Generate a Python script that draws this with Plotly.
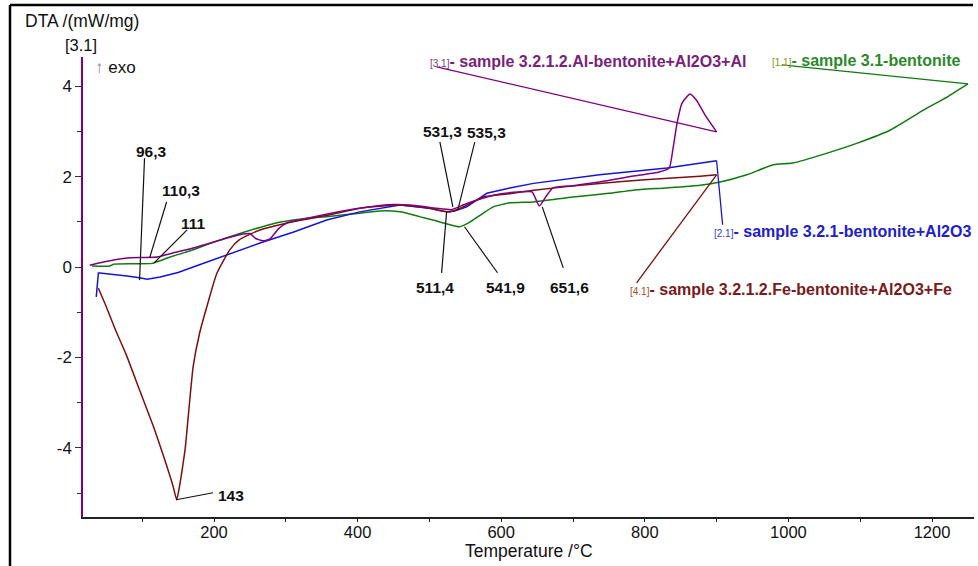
import plotly.graph_objects as go

# ---------------- data ----------------
green_T = [30, 55, 60, 90, 114, 125, 139, 155, 171, 200, 236, 265, 295, 330, 360, 403, 430, 459, 485, 505, 525,
           542, 555, 571, 589, 612, 645, 700, 750, 784, 830, 877, 905, 942, 979, 1006, 1054, 1096, 1142, 1188, 1221, 1250]
green_Y = [0.02, 0.02, 0.06, 0.07, 0.08, 0.14, 0.22, 0.30, 0.38, 0.55, 0.74, 0.88, 1.00, 1.08, 1.12, 1.19, 1.24, 1.22,
           1.12, 1.04, 0.95, 0.89, 0.98, 1.15, 1.33, 1.42, 1.44, 1.55, 1.63, 1.70, 1.75, 1.81, 1.88, 2.04, 2.26, 2.30,
           2.52, 2.74, 3.03, 3.47, 3.76, 4.05]

purple_T = [27, 46, 79, 100, 121, 140, 171, 218, 240, 250, 258, 268, 278, 290, 302, 330, 360, 403, 450, 480, 510, 531,
            545, 560, 580, 600, 625, 643, 653, 662, 672, 700, 737, 780, 820, 834, 839, 845, 852, 863, 872, 884, 900]
purple_Y = [0.04, 0.11, 0.20, 0.21, 0.22, 0.30, 0.42, 0.64, 0.73, 0.74, 0.63, 0.58, 0.62, 0.85, 0.98, 1.08, 1.18, 1.30,
            1.38, 1.36, 1.30, 1.27, 1.36, 1.45, 1.55, 1.62, 1.66, 1.66, 1.35, 1.55, 1.75, 1.80, 1.88, 2.00, 2.10, 2.19,
            2.59, 3.19, 3.63, 3.83, 3.69, 3.36, 2.99]

blue_T = [36, 37, 39, 41, 55, 79, 96, 107, 125, 150, 171, 218, 264, 310, 357, 403, 459, 500, 524, 535, 552, 580, 612,
          645, 737, 831, 877, 900]
blue_Y = [-0.66, -0.40, -0.13, -0.13, -0.15, -0.20, -0.24, -0.27, -0.22, -0.12, 0.00, 0.27, 0.53, 0.77, 1.04, 1.22,
          1.37, 1.30, 1.22, 1.24, 1.33, 1.63, 1.75, 1.85, 2.04, 2.19, 2.30, 2.35]

brown_T = [39, 43, 50, 63, 78, 97, 115, 129, 143, 148, 152, 156, 160, 171, 180, 190, 204, 222, 235, 264, 301, 360, 403,
           459, 500, 511, 529, 550, 575, 612, 645, 737, 800, 877, 900]
brown_Y = [-0.47, -0.62, -0.88, -1.40, -1.95, -2.75, -3.50, -4.15, -4.85, -5.15, -4.85, -4.45, -4.00, -2.20, -1.46,
           -0.88, -0.14, 0.38, 0.60, 0.82, 0.97, 1.15, 1.30, 1.37, 1.30, 1.26, 1.22, 1.35, 1.55, 1.62, 1.70, 1.85,
           1.93, 2.01, 2.04]

peak_T = [96.3, 110.3, 111, 143, 531.3, 535.3, 511.4, 541.9, 651.6]
peak_Y = [-0.29, 0.20, 0.09, -5.15, 1.33, 1.26, 1.22, 0.89, 1.33]
peak_labels = ["96,3", "110,3", "111", "143", "531,3", "535,3", "511,4", "541,9", "651,6"]

series_tags = ["[3.1]", "[1.1]", "[2.1]", "[4.1]"]
series_names = ["- sample 3.2.1.2.Al-bentonite+Al2O3+Al", "- sample 3.1-bentonite",
                "- sample 3.2.1-bentonite+Al2O3", "- sample 3.2.1.2.Fe-bentonite+Al2O3+Fe"]

x_ticks = [200, 400, 600, 800, 1000, 1200]
y_ticks = [-4, -2, 0, 2, 4]

# ---------------- styling / layout ----------------
W, H = 978, 566
L, R, T_, B = 83, 974, 57, 517  # plot area in pixels
FONT = "Arial, Liberation Sans, sans-serif"
C_PURPLE, C_GREEN, C_BLUE, C_BROWN = "#800080", "#107a10", "#1414d8", "#7a1010"
LBL_PURPLE, LBL_GREEN, LBL_BLUE, LBL_BROWN = "#7a1f7a", "#2a8a2a", "#2020cc", "#7a1a1a"

fig = go.Figure()
for xs, ys, col, shp in [(green_T, green_Y, C_GREEN, "spline"), (blue_T, blue_Y, C_BLUE, "linear"),
                         (brown_T, brown_Y, C_BROWN, "spline"), (purple_T, purple_Y, C_PURPLE, "spline")]:
    fig.add_trace(go.Scatter(x=xs, y=ys, mode="lines",
                             line=dict(color=col, width=1.5, shape=shp, smoothing=0.5),
                             showlegend=False, hoverinfo="skip"))

def px2paper(px, py):
    return (px - L) / (R - L), (B - py) / (B - T_)

shapes = []
annots = []

# peak labels: leader start offset, leader end offset, text centre offset (screen px, y down)
peak_geo = [((0, 0), (5, -122), (12, -129)),
            ((0, 0), (17, -56), (31, -67)),
            ((4, 0), (37, -33), (43, -39)),
            ((3, 0), (40, -7), (58, -4)),
            ((1, 0), (-12, -65), (-9, -75)),
            ((3, 0), (20, -68), (32, -78)),
            ((9, 0), (4, 61), (-3, 76)),
            ((5, 0), (38, 46), (46, 61)),
            ((4, 0), (25, 61), (31, 81))]
for t, yv, lab, (s0, s1, tx) in zip(peak_T, peak_Y, peak_labels, peak_geo):
    shapes.append(dict(type="line", xref="x", yref="y", xsizemode="pixel", ysizemode="pixel",
                       xanchor=t, yanchor=yv, x0=s0[0], y0=-s0[1], x1=s1[0], y1=-s1[1],
                       line=dict(color="#111111", width=1.2)))
    annots.append(dict(x=t, y=yv, xref="x", yref="y", showarrow=False, text=f"<b>{lab}</b>",
                       xshift=tx[0], yshift=-tx[1], xanchor="center", yanchor="middle",
                       font=dict(family=FONT, size=15.5, color="#111111")))

# series labels anchored at curve ends
ends = [(purple_T[-1], purple_Y[-1]), (green_T[-1], green_Y[-1]), (blue_T[-1], blue_Y[-1]), (brown_T[-1], brown_Y[-1])]
lcols = [C_PURPLE, C_GREEN, C_BLUE, C_BROWN]
tcols = [LBL_PURPLE, LBL_GREEN, LBL_BLUE, LBL_BROWN]
tagcols = ["#7a3a7a", "#8a9a20", "#3a3ad0", "#a0501a"]
lab_geo = [((-280, -65), (-289, -70)),
           ((-186, -19), (-198, -23)),
           ((6, 64), (-5, 71)),
           ((-80, 108), (-89, 115))]
for (t, yv), tag, name, lc, tc, gc, (tail, tx) in zip(ends, series_tags, series_names, lcols, tcols, tagcols, lab_geo):
    shapes.append(dict(type="line", xref="x", yref="y", xsizemode="pixel", ysizemode="pixel",
                       xanchor=t, yanchor=yv, x0=0, y0=0, x1=tail[0], y1=-tail[1],
                       line=dict(color=lc, width=1.3)))
    annots.append(dict(x=t, y=yv, xref="x", yref="y", showarrow=False,
                       text=f"<span style='font-size:10px;color:{gc}'>{tag}</span><b>{name}</b>",
                       xshift=tx[0], yshift=-tx[1], xanchor="left", yanchor="middle",
                       font=dict(family=FONT, size=16, color=tc)))

# outer frame (top and left edges)
fx0, fy0 = px2paper(10, 5)
fx1, fy1 = px2paper(973, 566)
shapes.append(dict(type="line", xref="paper", yref="paper", x0=fx0, y0=fy0, x1=fx1, y1=fy0,
                   line=dict(color="black", width=2.5)))
shapes.append(dict(type="line", xref="paper", yref="paper", x0=fx0, y0=fy0, x1=fx0, y1=fy1,
                   line=dict(color="black", width=2.5)))

# axis headings
ax_, ay_ = px2paper(23, 21)
annots.append(dict(x=ax_, y=ay_, xref="paper", yref="paper", showarrow=False, text="DTA /(mW/mg)",
                   xanchor="left", yanchor="middle", font=dict(family=FONT, size=17.5, color="#111111")))
ax_, ay_ = px2paper(81, 45)
annots.append(dict(x=ax_, y=ay_, xref="paper", yref="paper", showarrow=False, text="[3.1]",
                   xanchor="center", yanchor="middle", font=dict(family=FONT, size=16.5, color="#111111")))
ax_, ay_ = px2paper(93, 67)
annots.append(dict(x=ax_, y=ay_, xref="paper", yref="paper", showarrow=False,
                   text="<span style='color:#888888'>↑</span> exo",
                   xanchor="left", yanchor="middle", font=dict(family=FONT, size=17, color="#111111")))

# x-axis title placed just under the tick labels
tx_, ty_ = px2paper((L + R) / 2, 551)
annots.append(dict(x=tx_, y=ty_, xref="paper", yref="paper", showarrow=False, text="Temperature /°C",
                   xanchor="center", yanchor="middle", font=dict(family=FONT, size=17.5, color="#111111")))

# axis ranges from pixel mapping
x_lo, x_hi = (L - 70.4) / 0.718, (R - 70.4) / 0.718
y_hi, y_lo = (267 - T_) / 45.2, (267 - B) / 45.2

fig.update_layout(
    width=W, height=H,
    margin=dict(l=L, r=W - R, t=T_, b=H - B),
    paper_bgcolor="white", plot_bgcolor="white",
    shapes=shapes, annotations=annots,
    xaxis=dict(range=[x_lo, x_hi], tickvals=x_ticks, ticktext=[str(v) for v in x_ticks],
               showgrid=False, zeroline=False, showline=True, linecolor="#222222", linewidth=1.5,
               ticks="outside", ticklen=3, tickcolor="#222222", ticklabelstandoff=-4,
               minor=dict(tickvals=[100, 300, 500, 700, 900, 1100], ticks="outside", ticklen=3, tickcolor="#222222"),
               tickfont=dict(family=FONT, size=16.5, color="#111111")),
    yaxis=dict(range=[y_lo, y_hi], tickvals=y_ticks, ticktext=[str(v) for v in y_ticks],
               showgrid=False, zeroline=False, showline=True, linecolor=C_PURPLE, linewidth=1.5,
               ticks="outside", ticklen=6, tickcolor="#333333",
               minor=dict(tickvals=[-5, -3, -1, 1, 3], ticks="outside", ticklen=4, tickcolor="#333333"),
               tickfont=dict(family=FONT, size=17, color="#111111")),
)

fig.write_html("out.html")
